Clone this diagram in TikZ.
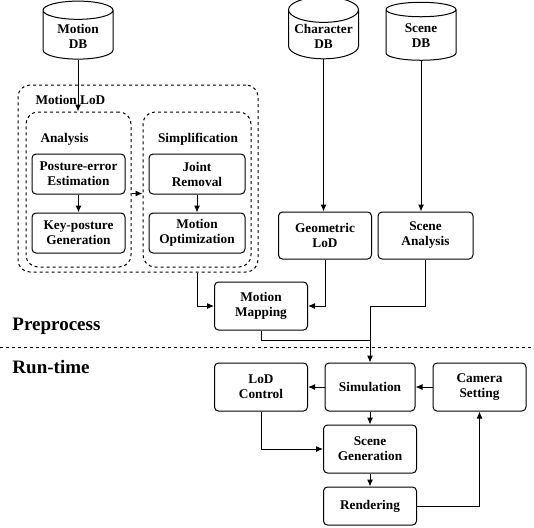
\documentclass[tikz,border=0pt]{standalone}
\usepackage{fontspec}
\setmainfont{Liberation Serif}
\usetikzlibrary{shapes.geometric, arrows.meta}
\begin{document}
\begin{tikzpicture}[x=1pt, y=-1pt, line width=1pt,
  every node/.style={font=\fontsize{13.3}{15}\selectfont\bfseries},
  b/.style={draw, rounded corners=4pt, align=center, minimum width=93pt, minimum height=48pt, inner sep=1pt},
  grp/.style={draw, dashed, rounded corners=12pt, inner sep=0pt},
  db/.style={draw, cylinder, shape border rotate=90, aspect=0.42, align=center, minimum width=70pt, minimum height=58pt, inner sep=1pt},
  arr/.style={-{Latex[length=7pt, width=6pt]}}]
  \useasboundingbox (0,0) rectangle (534,527);
  % databases
  \node[db] (mdb) at (78,36) {Motion\\DB};
  \node[db] (cdb) at (323.5,36) {Character\\DB};
  \node[db] (sdb) at (421,36) {Scene\\DB};
  % motion LoD groups
  \node[grp, minimum width=240pt, minimum height=187pt] (mlod) at (138,178.5) {};
  \node[grp, minimum width=105pt, minimum height=155pt] (ana) at (78.5,189.5) {};
  \node[grp, minimum width=108pt, minimum height=155pt] (simp) at (197,189.5) {};
  \node[anchor=west, inner sep=0pt] (mlodlbl) at (35,100) {Motion LoD};
  \node[anchor=west, inner sep=0pt] (analbl) at (40,139) {Analysis};
  \node[inner sep=0pt] (simplbl) at (198,139) {Simplification};
  \node[b, minimum height=40pt] (pee) at (78.5,174) {Posture-error\\Estimation};
  \node[b, minimum height=40pt] (kpg) at (78.5,233) {Key-posture\\Generation};
  \node[b, minimum width=96pt, minimum height=40pt] (jr) at (197,174) {Joint\\Removal};
  \node[b, minimum width=96pt, minimum height=40pt] (mo) at (197,233) {Motion\\Optimization};
  % preprocess
  \node[b, minimum height=47pt] (geo) at (325,235.5) {Geometric\\LoD};
  \node[b, minimum width=95pt, minimum height=47pt] (sa) at (425.5,235.5) {Scene\\Analysis};
  \node[b] (mm) at (261,306) {Motion\\Mapping};
  \node[anchor=west, inner sep=0pt, font=\fontsize{19}{22}\selectfont\bfseries] (pre) at (12,326) {Preprocess};
  \node[anchor=west, inner sep=0pt, font=\fontsize{19}{22}\selectfont\bfseries] (run) at (12,367) {Run-time};
  \coordinate (sepl) at (0,347);
  \coordinate (sepr) at (534,347);
  \draw[dashed] (sepl) -- (sepr);
  % run-time
  \node[b] (lod) at (261,387) {LoD\\Control};
  \node[b, minimum width=90pt] (sim) at (370,387) {Simulation};
  \node[b] (cam) at (479.5,387) {Camera\\Setting};
  \node[b] (sg) at (370,449) {Scene\\Generation};
  \node[b, minimum height=38pt] (ren) at (370,506) {Rendering};
  \coordinate (join) at (370,340);
  % connectors
  \draw[arr] (mdb.south) -- (mdb.south |- ana.north);
  \draw[arr] (pee) -- (kpg);
  \draw[arr] (jr) -- (mo);
  \draw[arr] ([yshift=-4pt]ana.east) -- ([yshift=-4pt]simp.west);
  \draw[arr] ([xshift=59pt]mlod.south) |- (mm.west);
  \draw[arr] (cdb.south) -- (cdb.south |- geo.north);
  \draw[arr] (sdb.south) -- (sdb.south |- sa.north);
  \draw[arr] (geo.south) |- (mm.east);
  \draw[arr] (sa.south) -- (sa.south |- mm.east) -| (sim.north);
  \draw (mm.south) |- (join);
  \draw[arr] (sim) -- (lod);
  \draw[arr] (cam) -- (sim);
  \draw[arr] (sim) -- (sg);
  \draw[arr] (lod.south) |- (sg.west);
  \draw[arr] (sg) -- (ren);
  \draw[arr] (ren.east) -| (cam.south);
\end{tikzpicture}
\end{document}
